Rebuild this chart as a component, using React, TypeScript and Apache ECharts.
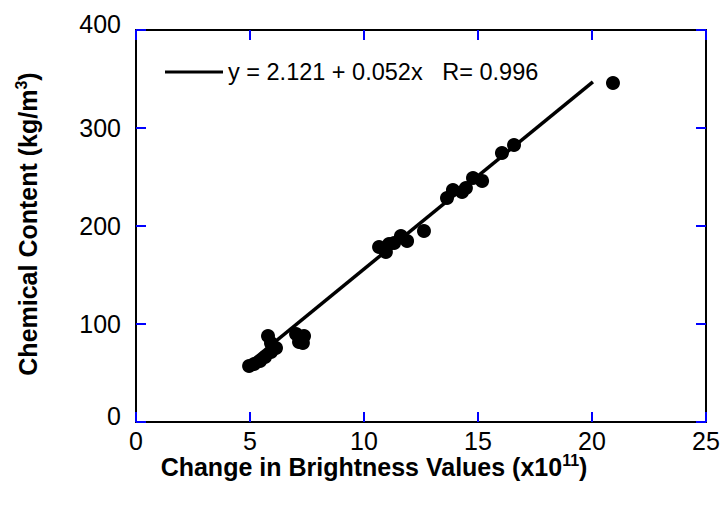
import React, { useEffect, useRef } from "react";
import * as echarts from "echarts";

const xValues = [
  4.96, 5.18, 5.44, 5.66, 5.79, 5.92, 6.14, 5.92, 7.02, 7.37, 7.15, 7.32,
  10.66, 10.96, 11.1, 11.32, 11.62, 11.89, 12.63,
  13.64, 13.9, 14.3, 14.47, 14.78, 15.18, 16.05, 16.58, 20.92,
];
const yValues = [
  57.1, 59.2, 62.2, 66.3, 87.8, 80.6, 75.5, 71.4, 89.8, 87.8, 81.6, 80.6,
  178.6, 173.5, 181.6, 182.7, 189.8, 184.7, 194.9,
  228.6, 236.7, 234.7, 238.8, 249, 246, 274.5, 282.7, 345.9,
];
const fitX = [5, 20.04];
const fitY = [61, 347];
const fitName = "y = 2.121 + 0.052x   R= 0.996";
const xTitle = "Change in Brightness Values (x10{sup|11})";
const yTitle = "Chemical Content (kg/m{sup|3})";

const FONT = "'Liberation Sans', Arial, Helvetica, sans-serif";

export default function App() {
  const ref = useRef<HTMLDivElement>(null);
  useEffect(() => {
    if (!ref.current) return;
    const chart = echarts.init(ref.current, undefined, { renderer: "svg" });
    const axisLine = { show: true, onZero: false, lineStyle: { color: "#000", width: 2 } };
    const axisTick = { show: true, inside: true, length: 10, lineStyle: { color: "#0000ff", width: 2 } };
    const xBase = { type: "value", min: 0, max: 25, interval: 5, axisLine, axisTick, splitLine: { show: false } };
    const yBase = { type: "value", min: 0, max: 400, interval: 100, axisLine, axisTick, splitLine: { show: false } };
    const supRich = { sup: { fontSize: 16, fontWeight: "bold", fontFamily: FONT, verticalAlign: "top", lineHeight: 30 } };
    chart.setOption({
      animation: false,
      backgroundColor: "#fff",
      grid: { left: 136, right: 20, top: 30, bottom: 88, containLabel: false },
      xAxis: [
        { ...xBase, position: "bottom", axisLabel: { fontSize: 25, color: "#000", fontFamily: FONT, margin: 6 } },
        { ...xBase, position: "top", axisLabel: { show: false } },
      ],
      yAxis: [
        {
          ...yBase,
          position: "left",
          axisLabel: {
            fontSize: 25,
            color: "#000",
            fontFamily: FONT,
            margin: 15,
            formatter: (v: number) => (v === 0 || v === 400 ? `{e|${v}}` : `${v}`),
            rich: { e: { fontSize: 25, color: "#000", fontFamily: FONT, padding: [0, 0, 12, 0] } },
          },
        },
        { ...yBase, position: "right", axisLabel: { show: false } },
      ],
      legend: {
        data: [{ name: fitName, icon: "rect" }],
        left: 165,
        top: 60,
        padding: 0,
        itemWidth: 58,
        itemHeight: 3,
        textStyle: { fontSize: 23.5, color: "#000", fontFamily: FONT },
      },
      series: [
        {
          type: "scatter",
          name: "data",
          data: xValues.map((x, i) => [x, yValues[i]]),
          symbol: "circle",
          symbolSize: 14,
          itemStyle: { color: "#000", opacity: 1 },
        },
        {
          type: "line",
          name: fitName,
          data: fitX.map((x, i) => [x, fitY[i]]),
          symbol: "none",
          lineStyle: { color: "#000", width: 3.5 },
          itemStyle: { color: "#000" },
        },
      ],
      graphic: [
        {
          type: "text",
          x: 374,
          y: 467,
          style: {
            text: xTitle,
            font: `bold 25px ${FONT}`,
            fill: "#000",
            align: "center",
            verticalAlign: "middle",
            rich: supRich,
          },
        },
        {
          type: "text",
          x: 28,
          y: 224,
          rotation: Math.PI / 2,
          style: {
            text: yTitle,
            font: `bold 25px ${FONT}`,
            fill: "#000",
            align: "center",
            verticalAlign: "middle",
            rich: supRich,
          },
        },
      ],
    });
    return () => chart.dispose();
  }, []);
  return <div ref={ref} style={{ width: 726, height: 510, position: "absolute", left: 0, top: 0 }} />;
}
